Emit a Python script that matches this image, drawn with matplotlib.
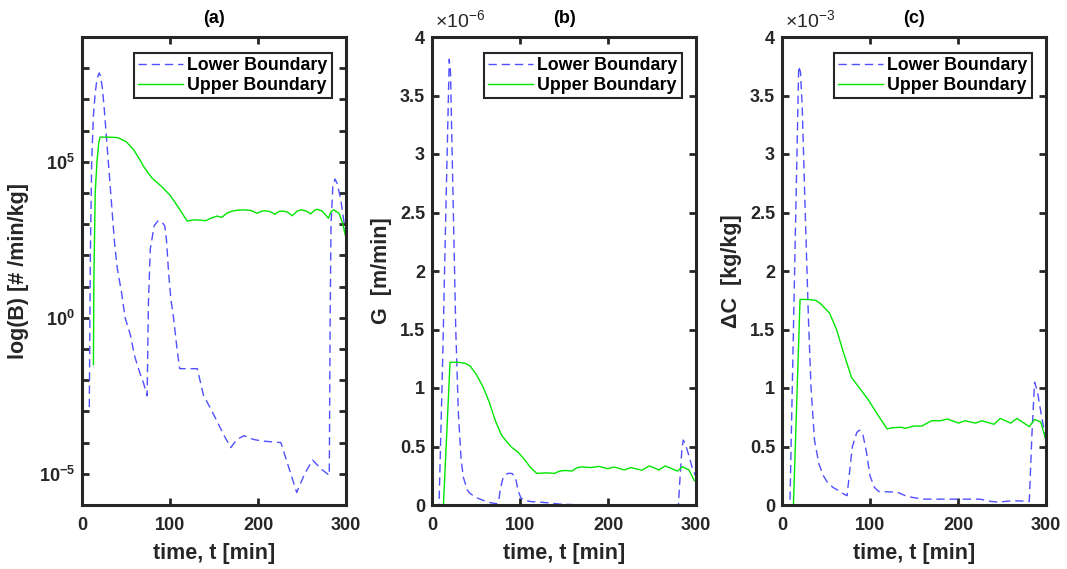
import numpy as np
import matplotlib
matplotlib.use("Agg")
import matplotlib.pyplot as plt
from matplotlib.ticker import LogLocator, FuncFormatter, NullLocator, MultipleLocator

plt.rcParams['font.family'] = ['Liberation Sans', 'DejaVu Sans']
plt.rcParams['font.weight'] = 'bold'
plt.rcParams['mathtext.default'] = 'regular'
plt.rcParams['axes.unicode_minus'] = True

# ---- panel (a): nucleation rate B, stored as log10 values ----
ta_low = [8.3, 9.5, 11, 13, 15, 17, 19.5, 21, 23, 25, 28, 31, 34, 37, 40, 45, 49, 55, 60, 65, 70, 74,
          75.5, 77.6, 82, 86, 90, 94, 96, 98.5, 101, 104, 108, 111, 131, 138, 146, 154, 162, 169, 176,
          184, 195, 205, 226, 235, 244, 253, 262, 272, 281, 282, 283, 285, 287.5, 290, 294, 297, 300]
Ba_low_log = [-2.86, 2.0, 5.0, 6.5, 7.2, 7.65, 7.85, 7.75, 7.4, 6.8, 5.7, 4.6, 3.5, 2.4, 1.6, 0.8, 0.0,
              -0.55, -1.25, -1.7, -2.1, -2.5, 0.5, 2.2, 2.95, 3.1, 3.1, 2.95, 2.5, 1.4, 0.6, 0.0, -1.0,
              -1.63, -1.63, -2.48, -2.9, -3.35, -3.8, -4.16, -3.9, -3.78, -3.9, -3.95, -4.0, -4.8, -5.6,
              -5.0, -4.56, -4.85, -5.05, 0.0, 3.0, 4.2, 4.45, 4.3, 3.8, 3.2, 2.7]
ta_up = [13, 13.5, 15, 17, 19, 20.5, 30, 38, 41, 50, 58.6, 65, 70, 75, 79.5, 90, 100, 110, 119.5, 127,
         134.6, 140.3, 147, 153.6, 159, 165, 170.7, 177, 184, 192, 199, 204, 208.7, 214, 219, 224, 229,
         234, 239, 244, 248.7, 254, 260, 264, 267, 273, 280, 283, 286, 292, 296, 300]
Ba_up_log = [-1.5, 1.2, 4.0, 5.0, 5.6, 5.79, 5.79, 5.78, 5.77, 5.65, 5.39, 5.1, 4.85, 4.65, 4.48, 4.22,
             3.93, 3.52, 3.1, 3.14, 3.13, 3.11, 3.2, 3.26, 3.22, 3.36, 3.42, 3.45, 3.46, 3.44, 3.35,
             3.42, 3.43, 3.4, 3.32, 3.41, 3.42, 3.38, 3.27, 3.41, 3.46, 3.43, 3.33, 3.44, 3.48, 3.42,
             3.19, 3.4, 3.46, 3.35, 3.05, 2.55]

# ---- panel (b): growth rate G [x1e-6 m/min] ----
tb_low = [0, 8, 12, 16, 19.6, 21, 24, 27, 30, 33, 35.5, 40, 43, 50, 58, 66, 74, 76, 78, 81, 86, 91,
          95, 98, 101, 105, 112, 130, 145, 160, 200, 280, 282, 284, 285.5, 288, 292, 296, 300]
Gb_low = [0, 0, 1.2, 2.6, 3.81, 3.7, 2.6, 1.5, 0.78, 0.4, 0.24, 0.13, 0.1, 0.065, 0.04, 0.02, 0.01,
          0.05, 0.15, 0.24, 0.27, 0.27, 0.23, 0.12, 0.06, 0.04, 0.03, 0.02, 0.008, 0.003, 0.002, 0.001,
          0.25, 0.48, 0.555, 0.52, 0.42, 0.31, 0.24]
tb_up = [0, 13, 20.5, 30, 38, 43, 50, 58, 65, 72, 79, 85, 91, 98, 106, 112, 119, 130, 139, 145, 152,
         159, 165, 170, 180, 190, 199.6, 207, 218.5, 226, 238.5, 247, 258, 265, 279, 284.5, 292, 298, 300]
Gb_up = [0, 0, 1.22, 1.22, 1.21, 1.19, 1.12, 1.01, 0.88, 0.72, 0.597, 0.54, 0.49, 0.45, 0.38, 0.32,
         0.27, 0.275, 0.27, 0.29, 0.295, 0.29, 0.32, 0.326, 0.32, 0.33, 0.31, 0.325, 0.30, 0.32, 0.297,
         0.334, 0.30, 0.334, 0.29, 0.326, 0.30, 0.21, 0.2]

# ---- panel (c): supersaturation dC [x1e-3 kg/kg] ----
tc_low = [0, 9, 19, 21, 23, 26, 30, 33, 37, 42, 47, 52, 58, 65, 71, 74, 77, 80, 85, 88, 92, 96, 100,
          105, 110, 131, 140, 148, 160, 225, 238, 246, 260, 270, 281, 284, 287, 290, 294, 300]
Cc_low = [0, 0, 3.75, 3.7, 3.4, 2.6, 1.6, 1.0, 0.55, 0.35, 0.25, 0.19, 0.15, 0.12, 0.09, 0.08, 0.3,
          0.5, 0.62, 0.64, 0.6, 0.45, 0.25, 0.15, 0.115, 0.11, 0.08, 0.065, 0.05, 0.05, 0.03, 0.025,
          0.035, 0.035, 0.03, 0.6, 1.05, 0.98, 0.8, 0.55]
tc_up = [0, 13, 20.5, 30, 38, 44, 54, 62, 70, 79, 88, 98, 108, 119.5, 125, 135, 140, 150, 159, 165,
         170, 180, 188, 200.6, 208, 220, 227, 241, 248, 259.8, 267, 281, 287, 294, 300]
Cc_up = [0, 0, 1.757, 1.757, 1.75, 1.72, 1.64, 1.5, 1.3, 1.09, 1.0, 0.9, 0.78, 0.65, 0.66, 0.665,
         0.655, 0.675, 0.675, 0.70, 0.72, 0.72, 0.735, 0.70, 0.72, 0.70, 0.72, 0.69, 0.74, 0.70, 0.74,
         0.67, 0.73, 0.71, 0.55]

blue = '#5050ff'
green = '#00e600'
dark = '#262626'

fig = plt.figure(figsize=(10.67, 5.69), dpi=100)
W, H = 1067, 569
lefts = [82, 432, 782]
axes = [fig.add_axes([l / W, 1 - 505 / H, 264 / W, 468 / H]) for l in lefts]

series = [
    (ta_low, 10 ** np.array(Ba_low_log), ta_up, 10 ** np.array(Ba_up_log)),
    (tb_low, Gb_low, tb_up, Gb_up),
    (tc_low, Cc_low, tc_up, Cc_up),
]
titles = ['(a)', '(b)', '(c)']
ylabels = ['log(B) [# /min/kg]', 'G  [m/min]', '\u0394C  [kg/kg]']

for i, ax in enumerate(axes):
    tl, yl, tu, yu = series[i]
    ax.plot(tl, yl, color=blue, lw=1.0, dashes=(6, 3.5), label='Lower Boundary')
    ax.plot(tu, yu, color=green, lw=1.0, label='Upper Boundary')
    ax.set_xlim(0, 300)
    ax.xaxis.set_major_locator(MultipleLocator(100))
    ax.set_title(titles[i], fontsize=13, fontweight='bold', pad=10)
    ax.set_xlabel('time, t [min]', fontsize=15.5, fontweight='bold', color=dark, labelpad=6)
    ax.set_ylabel(ylabels[i], fontsize=15.5, fontweight='bold', color=dark)
    for s in ax.spines.values():
        s.set_linewidth(2.2)
        s.set_color(dark)
    ax.tick_params(direction='in', length=5, width=2, top=True, right=True,
                   labelsize=13, colors=dark)
    ax.tick_params(axis='x', pad=9)
    ax.tick_params(axis='y', pad=5)
    leg = ax.legend(loc='upper right', bbox_to_anchor=(0.947, 0.966), fontsize=12.8,
                    handlelength=2.5, handletextpad=0.25, labelspacing=0.15, borderpad=0.25,
                    borderaxespad=0, fancybox=False, framealpha=1, edgecolor=dark)
    leg.get_frame().set_linewidth(1.5)

# panel (a): log axis, a tick at every decade, labels every fifth
ax = axes[0]
ax.set_yscale('log')
ax.set_ylim(1e-6, 1e9)
ax.yaxis.set_major_locator(LogLocator(base=10, numticks=30))
ax.yaxis.set_minor_locator(NullLocator())
ax.yaxis.set_major_formatter(FuncFormatter(
    lambda v, p: r'$10^{%d}$' % round(np.log10(v)) if round(np.log10(v)) % 5 == 0 else ''))
ax.yaxis.set_label_coords(-0.2, 0.5)

for ax, mult in [(axes[1], '-6'), (axes[2], '-3')]:
    ax.set_ylim(0, 4)
    ax.yaxis.set_major_locator(MultipleLocator(0.5))
    ax.yaxis.set_major_formatter(FuncFormatter(lambda v, p: '%g' % v))
    ax.yaxis.set_label_coords(-0.15, 0.5)
    ax.text(0.01, 1.012, '\u00d710$^{%s}$' % mult, transform=ax.transAxes, ha='left', va='bottom',
            fontsize=14, fontweight='normal', color=dark)

fig.savefig('out.png', dpi=100)
